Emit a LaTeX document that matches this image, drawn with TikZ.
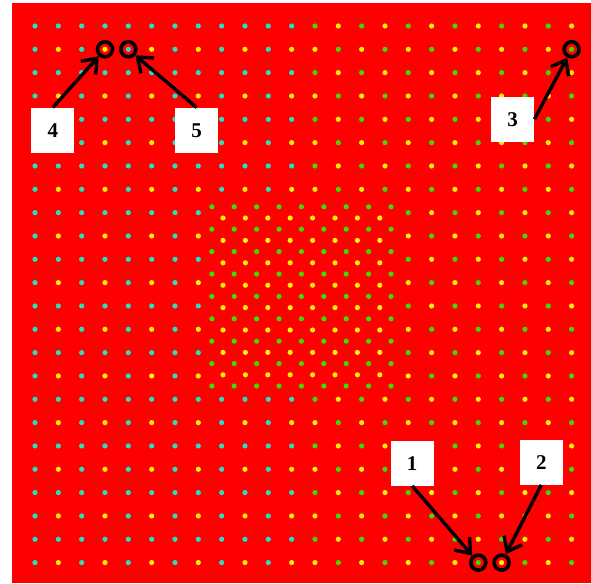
\documentclass[tikz,border=0pt]{standalone}
\usepackage{fontspec}
\setmainfont{Liberation Serif}
\usetikzlibrary{arrows.meta}
\definecolor{grund}{HTML}{FF0000}
\definecolor{tuerkis}{HTML}{22E2C4}
\definecolor{gelb}{HTML}{FFEF00}
\definecolor{gruen}{HTML}{3EDB00}
\colorlet{farbe0}{tuerkis}
\colorlet{farbe1}{gelb}
\colorlet{farbe2}{gruen}
\colorlet{farbe3}{gelb}
\newcommand{\ziffer}{\fontsize{21}{21}\selectfont\bfseries}
\tikzset{ring/.style={circle,draw=black,line width=3.6pt,minimum size=15pt,inner sep=0},
  marke/.style={fill=white,minimum width=43pt,minimum height=45pt,inner sep=0,font=\ziffer},
  pfeil/.style={line width=3.4pt,-{Straight Barb[length=13pt,width=20pt]}}}
\newcommand{\punkt}[3]{\fill[#1] (#2,#3) circle (2.6pt);}

\begin{document}
\begin{tikzpicture}[x=1pt,y=-1pt]
\useasboundingbox (0,0) rectangle (591,583);
\fill[grund] (12,3) rectangle (591,583);
% Gitter aussen
\foreach \i in {0,...,23}{
  \foreach \j in {0,...,23}{
    \pgfmathtruncatemacro{\innen}{and(and(\i>7,\i<16),and(\j>7,\j<16))}
    \pgfmathtruncatemacro{\farbe}{\i<12 ? mod(\i,2)*mod(\j,2) : 2+mod(\i+\j,2)}
    \ifnum\innen=0 \punkt{farbe\farbe}{35+23.33*\i}{26+23.33*\j}\fi
  }}
% Gitter innen
\foreach \i in {0,...,8}{\foreach \j in {0,...,8}{\punkt{gruen}{211.8+22.4*\i}{206.8+22.4*\j}}}
\foreach \i in {0,...,7}{\foreach \j in {0,...,7}{\punkt{gelb}{223+22.4*\i}{218+22.4*\j}}}
% Markierungen
\node[ring] (ring1) at (478.3,562.6) {};
\node[ring] (ring2) at (501.6,562.6) {};
\node[ring] (ring3) at (571.6,49.3) {};
\node[ring] (ring4) at (105,49.3) {};
\node[ring] (ring5) at (128.3,49.3) {};
\node[marke] (lab1) at (412.2,463.2) {1};
\node[marke] (lab2) at (541.3,462.2) {2};
\node[marke] (lab3) at (512.7,119.2) {3};
\node[marke] (lab4) at (52.8,130.2) {4};
\node[marke] (lab5) at (196.7,130.3) {5};
\draw[pfeil] (lab1.south) -- (ring1);
\draw[pfeil] (lab2.south) -- (ring2);
\draw[pfeil] (lab3.east) -- (ring3);
\draw[pfeil] (lab4.north) -- (ring4);
\draw[pfeil] (lab5.north) -- (ring5);
\end{tikzpicture}
\end{document}
